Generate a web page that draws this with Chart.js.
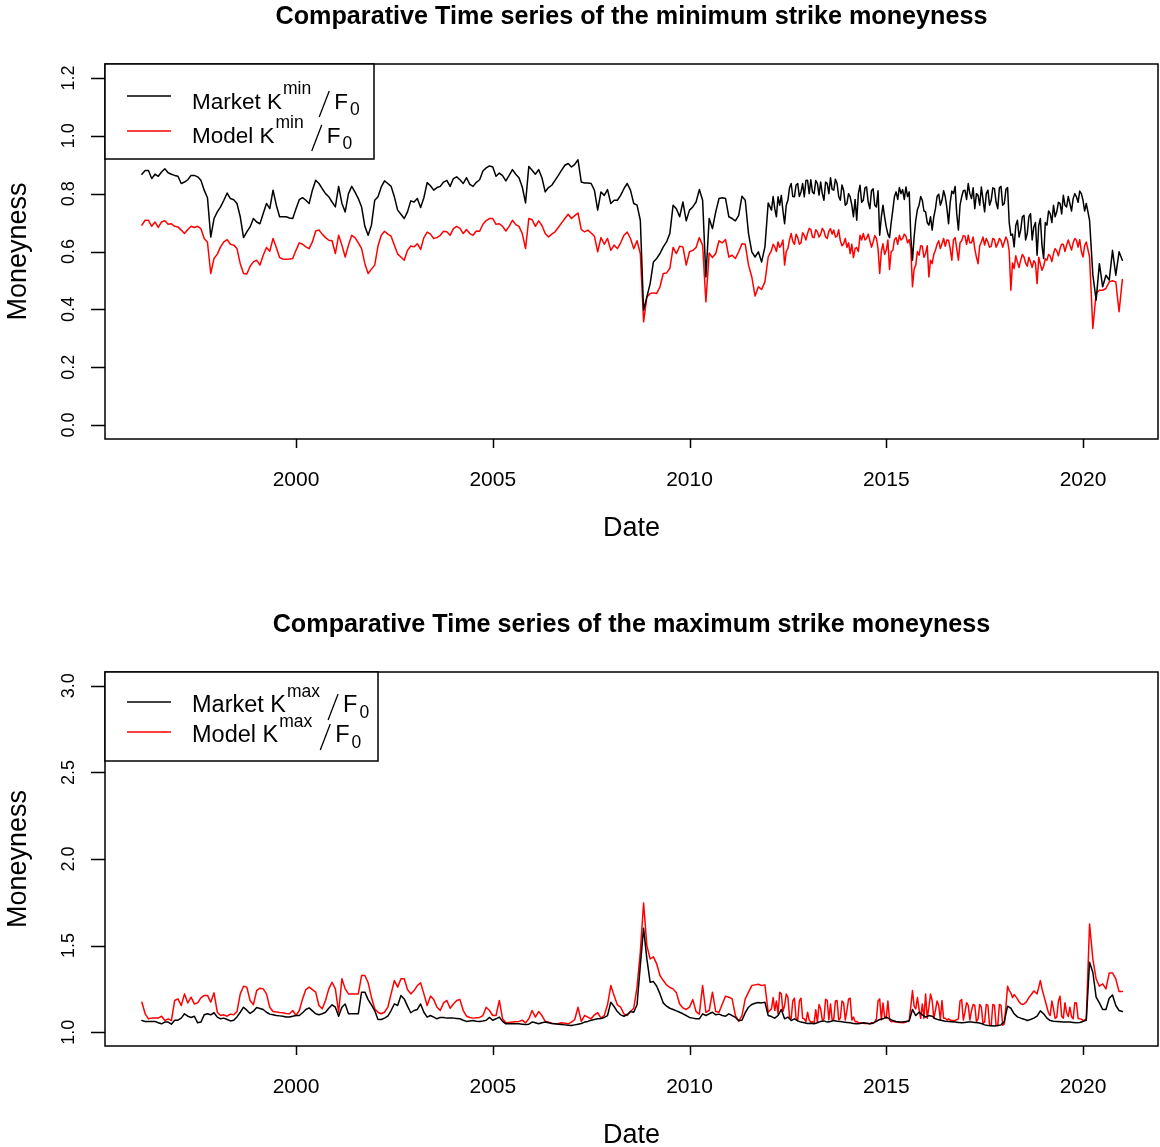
<!DOCTYPE html>
<html>
<head>
<meta charset="utf-8">
<title>Strike moneyness</title>
<script src="https://cdn.jsdelivr.net/npm/chart.js@4.4.1/dist/chart.umd.min.js"></script>
<style>
  body { margin: 0; background: #fff; }
  canvas { position: absolute; left: 0; }
  #minChart { top: 0; }
  #maxChart { top: 574px; }
</style>
</head>
<body>
<canvas id="minChart" width="1160" height="574"></canvas>
<canvas id="maxChart" width="1160" height="573"></canvas>
<script>
// Monthly observations, first one Feb 1996, last one Jan 2021
const FIRST_YEAR = 1996;
const FIRST_MONTH = 2;
// From Feb 2012 to Jan 2020 the series are noisy, so there is one extra
// mid-month reading per month (the *Mid arrays, 96 values each)
const DENSE_FROM = 192;

// Minimum strike / forward
const marketMin = [
  0.867, 0.880, 0.880, 0.852, 0.867, 0.860, 0.875, 0.886, 0.872, 0.867, 0.863, 0.860,
  0.835, 0.840, 0.848, 0.863, 0.863, 0.858, 0.846, 0.812, 0.786, 0.650, 0.714, 0.737,
  0.754, 0.777, 0.802, 0.783, 0.779, 0.766, 0.720, 0.648, 0.668, 0.685, 0.714, 0.702,
  0.696, 0.731, 0.766, 0.748, 0.812, 0.760, 0.720, 0.720, 0.720, 0.716, 0.714, 0.748,
  0.779, 0.786, 0.777, 0.766, 0.812, 0.846, 0.835, 0.817, 0.800, 0.789, 0.771, 0.754,
  0.825, 0.766, 0.737, 0.800, 0.825, 0.805, 0.783, 0.754, 0.687, 0.656, 0.691, 0.777,
  0.789, 0.823, 0.844, 0.835, 0.825, 0.789, 0.743, 0.729, 0.714, 0.737, 0.775, 0.771,
  0.783, 0.752, 0.786, 0.838, 0.827, 0.812, 0.821, 0.825, 0.840, 0.846, 0.825, 0.852,
  0.858, 0.848, 0.835, 0.855, 0.832, 0.825, 0.839, 0.848, 0.878, 0.889, 0.896, 0.892,
  0.860, 0.871, 0.862, 0.844, 0.863, 0.883, 0.867, 0.855, 0.823, 0.768, 0.894, 0.881,
  0.867, 0.883, 0.855, 0.806, 0.821, 0.829, 0.846, 0.863, 0.881, 0.898, 0.904, 0.892,
  0.901, 0.917, 0.840, 0.837, 0.837, 0.835, 0.812, 0.743, 0.806, 0.794, 0.814, 0.766,
  0.777, 0.777, 0.794, 0.817, 0.835, 0.812, 0.766, 0.760, 0.708, 0.397, 0.443, 0.489,
  0.564, 0.576, 0.593, 0.616, 0.633, 0.662, 0.760, 0.748, 0.720, 0.771, 0.706, 0.743,
  0.754, 0.771, 0.814, 0.777, 0.512, 0.714, 0.679, 0.737, 0.783, 0.786, 0.783, 0.720,
  0.714, 0.706, 0.725, 0.791, 0.777, 0.662, 0.599, 0.581, 0.599, 0.564, 0.616, 0.768,
  0.743, 0.748, 0.789, 0.794, 0.696, 0.777, 0.835, 0.789, 0.835, 0.806, 0.789, 0.846,
  0.848, 0.800, 0.835, 0.840, 0.777, 0.835, 0.855, 0.812, 0.835, 0.777, 0.812, 0.766,
  0.789, 0.720, 0.708, 0.829, 0.777, 0.823, 0.748, 0.817, 0.754, 0.656, 0.760, 0.685,
  0.648, 0.743, 0.806, 0.821, 0.814, 0.823, 0.806, 0.570, 0.708, 0.760, 0.777, 0.737,
  0.691, 0.674, 0.748, 0.798, 0.777, 0.789, 0.696, 0.809, 0.825, 0.674, 0.789, 0.812,
  0.835, 0.783, 0.748, 0.794, 0.823, 0.737, 0.812, 0.777, 0.817, 0.748, 0.825, 0.766,
  0.821, 0.656, 0.616, 0.708, 0.674, 0.725, 0.662, 0.731, 0.685, 0.587, 0.714, 0.576,
  0.691, 0.731, 0.760, 0.737, 0.766, 0.794, 0.754, 0.766, 0.783, 0.789, 0.809, 0.777,
  0.766, 0.708, 0.520, 0.432, 0.558, 0.478, 0.518, 0.501, 0.604, 0.518, 0.599, 0.570
];
const marketMinMid = [
  0.790, 0.720, 0.760, 0.740, 0.760, 0.820, 0.790, 0.830, 0.790, 0.835, 0.845, 0.800,
  0.805, 0.845, 0.795, 0.800, 0.840, 0.800, 0.815, 0.850, 0.790, 0.830, 0.760, 0.800,
  0.760, 0.780, 0.800, 0.770, 0.820, 0.770, 0.810, 0.760, 0.810, 0.720, 0.720, 0.660,
  0.700, 0.790, 0.780, 0.800, 0.780, 0.790, 0.650, 0.650, 0.745, 0.790, 0.740, 0.700,
  0.720, 0.720, 0.790, 0.760, 0.810, 0.750, 0.770, 0.800, 0.730, 0.760, 0.810, 0.780,
  0.800, 0.820, 0.800, 0.760, 0.780, 0.800, 0.760, 0.820, 0.770, 0.820, 0.760, 0.815,
  0.700, 0.660, 0.690, 0.650, 0.720, 0.640, 0.720, 0.640, 0.700, 0.690, 0.620, 0.700,
  0.740, 0.700, 0.720, 0.770, 0.730, 0.760, 0.790, 0.740, 0.800, 0.770, 0.800, 0.740
];
const modelMin = [
  0.691, 0.708, 0.708, 0.687, 0.702, 0.683, 0.702, 0.706, 0.694, 0.696, 0.687, 0.685,
  0.674, 0.662, 0.676, 0.687, 0.683, 0.687, 0.679, 0.645, 0.632, 0.524, 0.576, 0.591,
  0.616, 0.633, 0.641, 0.625, 0.622, 0.610, 0.558, 0.524, 0.522, 0.549, 0.564, 0.570,
  0.553, 0.587, 0.614, 0.601, 0.645, 0.614, 0.579, 0.574, 0.573, 0.574, 0.576, 0.604,
  0.630, 0.625, 0.616, 0.610, 0.633, 0.671, 0.674, 0.660, 0.648, 0.639, 0.637, 0.593,
  0.656, 0.622, 0.581, 0.622, 0.656, 0.648, 0.630, 0.610, 0.558, 0.524, 0.539, 0.553,
  0.619, 0.656, 0.670, 0.660, 0.653, 0.622, 0.591, 0.581, 0.570, 0.604, 0.619, 0.616,
  0.627, 0.607, 0.648, 0.667, 0.660, 0.645, 0.648, 0.656, 0.670, 0.668, 0.656, 0.679,
  0.687, 0.680, 0.662, 0.676, 0.662, 0.656, 0.671, 0.670, 0.694, 0.707, 0.714, 0.714,
  0.694, 0.696, 0.687, 0.671, 0.687, 0.708, 0.693, 0.687, 0.662, 0.610, 0.714, 0.710,
  0.687, 0.706, 0.690, 0.662, 0.650, 0.660, 0.668, 0.683, 0.699, 0.714, 0.729, 0.714,
  0.724, 0.733, 0.676, 0.668, 0.674, 0.664, 0.653, 0.599, 0.648, 0.625, 0.645, 0.604,
  0.622, 0.610, 0.630, 0.656, 0.667, 0.645, 0.610, 0.637, 0.593, 0.357, 0.443, 0.455,
  0.457, 0.455, 0.478, 0.524, 0.526, 0.541, 0.614, 0.593, 0.618, 0.616, 0.553, 0.599,
  0.604, 0.614, 0.648, 0.622, 0.426, 0.595, 0.579, 0.593, 0.637, 0.630, 0.641, 0.581,
  0.587, 0.576, 0.599, 0.627, 0.625, 0.553, 0.512, 0.446, 0.478, 0.469, 0.495, 0.581,
  0.604, 0.616, 0.633, 0.622, 0.553, 0.610, 0.662, 0.625, 0.648, 0.630, 0.656, 0.662,
  0.676, 0.648, 0.668, 0.660, 0.671, 0.645, 0.679, 0.674, 0.653, 0.637, 0.627, 0.614,
  0.593, 0.579, 0.614, 0.656, 0.662, 0.645, 0.637, 0.633, 0.645, 0.524, 0.627, 0.604,
  0.538, 0.604, 0.648, 0.656, 0.645, 0.653, 0.641, 0.478, 0.553, 0.587, 0.618, 0.593,
  0.512, 0.558, 0.604, 0.637, 0.627, 0.618, 0.639, 0.570, 0.648, 0.570, 0.637, 0.653,
  0.656, 0.630, 0.610, 0.558, 0.633, 0.622, 0.633, 0.618, 0.641, 0.627, 0.637, 0.633,
  0.637, 0.466, 0.541, 0.564, 0.570, 0.581, 0.549, 0.564, 0.568, 0.489, 0.556, 0.549,
  0.570, 0.584, 0.593, 0.602, 0.610, 0.625, 0.622, 0.622, 0.630, 0.639, 0.641, 0.581,
  0.633, 0.581, 0.334, 0.455, 0.466, 0.466, 0.472, 0.495, 0.499, 0.495, 0.392, 0.503
];
const modelMinMid = [
  0.625, 0.600, 0.615, 0.640, 0.600, 0.640, 0.635, 0.660, 0.625, 0.665, 0.640, 0.680,
  0.650, 0.675, 0.650, 0.680, 0.650, 0.670, 0.660, 0.650, 0.675, 0.620, 0.645, 0.630,
  0.625, 0.610, 0.600, 0.640, 0.640, 0.660, 0.615, 0.655, 0.610, 0.600, 0.590, 0.640,
  0.600, 0.640, 0.625, 0.640, 0.660, 0.630, 0.610, 0.540, 0.600, 0.620, 0.580, 0.620,
  0.570, 0.590, 0.625, 0.610, 0.645, 0.640, 0.610, 0.640, 0.610, 0.630, 0.655, 0.625,
  0.630, 0.650, 0.580, 0.620, 0.650, 0.645, 0.615, 0.645, 0.615, 0.645, 0.615, 0.650,
  0.600, 0.560, 0.585, 0.545, 0.590, 0.560, 0.580, 0.545, 0.560, 0.580, 0.535, 0.575,
  0.590, 0.565, 0.610, 0.585, 0.625, 0.600, 0.640, 0.605, 0.645, 0.615, 0.600, 0.620
];

// Maximum strike / forward
const marketMax = [
  1.067, 1.062, 1.062, 1.062, 1.062, 1.054, 1.048, 1.058, 1.058, 1.046, 1.069, 1.069,
  1.081, 1.106, 1.092, 1.085, 1.092, 1.054, 1.058, 1.100, 1.106, 1.100, 1.112, 1.087,
  1.077, 1.081, 1.073, 1.065, 1.069, 1.088, 1.115, 1.144, 1.127, 1.108, 1.121, 1.142,
  1.137, 1.131, 1.115, 1.104, 1.100, 1.096, 1.094, 1.092, 1.088, 1.087, 1.092, 1.096,
  1.096, 1.112, 1.131, 1.140, 1.123, 1.106, 1.100, 1.106, 1.115, 1.138, 1.158, 1.144,
  1.092, 1.144, 1.163, 1.106, 1.106, 1.106, 1.106, 1.231, 1.231, 1.188, 1.158, 1.125,
  1.073, 1.073, 1.081, 1.092, 1.125, 1.163, 1.154, 1.212, 1.192, 1.150, 1.112, 1.125,
  1.131, 1.163, 1.115, 1.087, 1.096, 1.087, 1.077, 1.085, 1.085, 1.081, 1.081, 1.081,
  1.079, 1.077, 1.069, 1.062, 1.065, 1.067, 1.063, 1.062, 1.065, 1.069, 1.085, 1.069,
  1.077, 1.087, 1.062, 1.048, 1.048, 1.048, 1.048, 1.048, 1.046, 1.044, 1.046, 1.058,
  1.054, 1.048, 1.054, 1.058, 1.054, 1.050, 1.048, 1.046, 1.044, 1.042, 1.040, 1.038,
  1.042, 1.046, 1.050, 1.058, 1.062, 1.069, 1.073, 1.077, 1.079, 1.085, 1.096, 1.173,
  1.148, 1.119, 1.100, 1.092, 1.102, 1.119, 1.115, 1.158, 1.385, 1.600, 1.423, 1.288,
  1.292, 1.265, 1.221, 1.169, 1.150, 1.138, 1.131, 1.123, 1.115, 1.106, 1.096, 1.085,
  1.081, 1.077, 1.077, 1.106, 1.096, 1.106, 1.115, 1.100, 1.104, 1.096, 1.092, 1.106,
  1.096, 1.085, 1.067, 1.069, 1.112, 1.144, 1.160, 1.167, 1.171, 1.169, 1.173, 1.096,
  1.090, 1.081, 1.096, 1.131, 1.077, 1.087, 1.067, 1.077, 1.065, 1.058, 1.054, 1.050,
  1.052, 1.048, 1.054, 1.062, 1.065, 1.058, 1.062, 1.067, 1.063, 1.062, 1.058, 1.056,
  1.054, 1.050, 1.048, 1.050, 1.054, 1.052, 1.048, 1.052, 1.063, 1.073, 1.077, 1.087,
  1.077, 1.067, 1.062, 1.058, 1.058, 1.062, 1.065, 1.131, 1.096, 1.115, 1.100, 1.087,
  1.096, 1.092, 1.077, 1.071, 1.067, 1.063, 1.062, 1.060, 1.058, 1.056, 1.054, 1.056,
  1.058, 1.058, 1.056, 1.054, 1.050, 1.042, 1.038, 1.037, 1.035, 1.038, 1.042, 1.062,
  1.150, 1.138, 1.106, 1.088, 1.081, 1.075, 1.067, 1.073, 1.081, 1.092, 1.123, 1.106,
  1.081, 1.067, 1.063, 1.062, 1.060, 1.058, 1.058, 1.058, 1.056, 1.054, 1.056, 1.062,
  1.069, 1.404, 1.346, 1.202, 1.169, 1.131, 1.131, 1.196, 1.215, 1.154, 1.125, 1.119
];
const modelMax = [
  1.173, 1.106, 1.077, 1.081, 1.081, 1.081, 1.092, 1.067, 1.077, 1.067, 1.183, 1.192,
  1.154, 1.221, 1.169, 1.202, 1.163, 1.169, 1.198, 1.212, 1.212, 1.173, 1.227, 1.115,
  1.096, 1.100, 1.092, 1.104, 1.100, 1.119, 1.221, 1.265, 1.260, 1.183, 1.158, 1.240,
  1.254, 1.250, 1.221, 1.144, 1.119, 1.117, 1.113, 1.112, 1.108, 1.106, 1.125, 1.096,
  1.125, 1.192, 1.246, 1.260, 1.246, 1.231, 1.154, 1.135, 1.183, 1.250, 1.288, 1.250,
  1.115, 1.308, 1.250, 1.221, 1.221, 1.221, 1.221, 1.327, 1.327, 1.285, 1.202, 1.135,
  1.115, 1.106, 1.115, 1.144, 1.221, 1.298, 1.260, 1.308, 1.308, 1.246, 1.221, 1.240,
  1.269, 1.285, 1.221, 1.154, 1.208, 1.188, 1.144, 1.125, 1.169, 1.183, 1.138, 1.163,
  1.183, 1.188, 1.125, 1.092, 1.085, 1.081, 1.083, 1.085, 1.096, 1.144, 1.125, 1.096,
  1.096, 1.183, 1.077, 1.054, 1.056, 1.058, 1.060, 1.062, 1.069, 1.054, 1.077, 1.125,
  1.087, 1.119, 1.096, 1.062, 1.058, 1.052, 1.048, 1.050, 1.054, 1.052, 1.048, 1.058,
  1.073, 1.144, 1.062, 1.096, 1.087, 1.077, 1.100, 1.112, 1.081, 1.096, 1.158, 1.269,
  1.212, 1.158, 1.144, 1.106, 1.096, 1.119, 1.138, 1.260, 1.462, 1.746, 1.500, 1.423,
  1.435, 1.394, 1.327, 1.298, 1.273, 1.258, 1.250, 1.227, 1.163, 1.140, 1.131, 1.144,
  1.188, 1.119, 1.104, 1.269, 1.115, 1.125, 1.231, 1.119, 1.115, 1.163, 1.208, 1.202,
  1.192, 1.096, 1.062, 1.096, 1.192, 1.231, 1.269, 1.273, 1.277, 1.269, 1.273, 1.115,
  1.135, 1.125, 1.106, 1.221, 1.154, 1.202, 1.077, 1.196, 1.067, 1.196, 1.077, 1.115,
  1.058, 1.054, 1.058, 1.135, 1.077, 1.183, 1.163, 1.077, 1.183, 1.081, 1.169, 1.125,
  1.196, 1.087, 1.062, 1.054, 1.052, 1.050, 1.048, 1.054, 1.077, 1.192, 1.169, 1.081,
  1.071, 1.063, 1.058, 1.056, 1.054, 1.058, 1.069, 1.240, 1.135, 1.135, 1.163, 1.221,
  1.144, 1.183, 1.125, 1.154, 1.183, 1.081, 1.077, 1.067, 1.067, 1.077, 1.188, 1.115,
  1.154, 1.125, 1.154, 1.077, 1.144, 1.058, 1.154, 1.038, 1.154, 1.038, 1.154, 1.048,
  1.265, 1.227, 1.217, 1.192, 1.165, 1.163, 1.183, 1.212, 1.238, 1.221, 1.298, 1.215,
  1.144, 1.096, 1.135, 1.087, 1.208, 1.081, 1.112, 1.144, 1.077, 1.169, 1.077, 1.067,
  1.077, 1.625, 1.423, 1.308, 1.265, 1.279, 1.250, 1.342, 1.342, 1.308, 1.235, 1.235
];
const modelMaxMid = [
  1.200, 1.180, 1.230, 1.120, 1.220, 1.090, 1.180, 1.080, 1.180, 1.080, 1.060, 1.070,
  1.060, 1.130, 1.160, 1.070, 1.190, 1.070, 1.070, 1.180, 1.070, 1.180, 1.070, 1.190,
  1.070, 1.060, 1.055, 1.053, 1.050, 1.050, 1.055, 1.060, 1.180, 1.070, 1.090, 1.180,
  1.060, 1.060, 1.057, 1.055, 1.056, 1.062, 1.150, 1.150, 1.200, 1.080, 1.080, 1.080,
  1.220, 1.080, 1.180, 1.070, 1.080, 1.070, 1.070, 1.067, 1.072, 1.180, 1.070, 1.170,
  1.070, 1.160, 1.060, 1.160, 1.050, 1.160, 1.040, 1.160, 1.040, 1.160, 1.040, 1.150,
  1.240, 1.200, 1.205, 1.175, 1.160, 1.170, 1.200, 1.225, 1.230, 1.260, 1.250, 1.180,
  1.110, 1.180, 1.080, 1.180, 1.090, 1.170, 1.090, 1.090, 1.170, 1.080, 1.075, 1.070
];

// Axis ticks
const yearTicks = [2000, 2005, 2010, 2015, 2020];
const minTicks = [0.0, 0.2, 0.4, 0.6, 0.8, 1.0, 1.2];
const maxTicks = [1.0, 1.5, 2.0, 2.5, 3.0];

const FONT = '"Liberation Sans", Arial, sans-serif';

// decimal year of every monthly observation
const dates = marketMin.map((_, i) => FIRST_YEAR + (FIRST_MONTH - 1 + i) / 12);

function toPoints(values, mids) {
  const pts = [];
  values.forEach((v, i) => {
    pts.push({ x: dates[i], y: v });
    const j = i - DENSE_FROM;
    if (mids && j >= 0 && j < mids.length) {
      pts.push({ x: dates[i] + 1 / 24, y: mids[j] });
    }
  });
  return pts;
}

// R-style frame: box, outside ticks, rotated y labels, legend with K^sup/F_0
const rFrame = {
  id: 'rFrame',
  afterDraw(chart, args, o) {
    const { ctx, chartArea: a, scales: { x, y } } = chart;
    ctx.save();
    ctx.strokeStyle = '#000';
    ctx.fillStyle = '#000';
    ctx.lineWidth = 1.5;

    ctx.strokeRect(a.left, a.top, a.right - a.left, a.bottom - a.top);

    ctx.beginPath();
    yearTicks.forEach(t => {
      const px = Math.round(x.getPixelForValue(t)) + 0.5;
      ctx.moveTo(px, a.bottom);
      ctx.lineTo(px, a.bottom + 9);
    });
    o.yTicks.forEach(t => {
      const py = Math.round(y.getPixelForValue(t)) + 0.5;
      ctx.moveTo(a.left, py);
      ctx.lineTo(a.left - 14, py);
    });
    ctx.stroke();

    // tick labels
    ctx.font = '21px ' + FONT;
    ctx.textAlign = 'center';
    ctx.textBaseline = 'alphabetic';
    yearTicks.forEach(t => ctx.fillText(String(t), x.getPixelForValue(t), a.bottom + 47));
    o.yTicks.forEach(t => {
      ctx.save();
      ctx.translate(a.left - 31, y.getPixelForValue(t));
      ctx.rotate(-Math.PI / 2);
      ctx.font = '18px ' + FONT;
      ctx.fillText(t.toFixed(1), 0, 0);
      ctx.restore();
    });

    // axis titles
    const midX = (a.left + a.right) / 2;
    ctx.font = '27px ' + FONT;
    ctx.fillText('Date', midX, a.bottom + 97);
    ctx.save();
    ctx.translate(26, (a.top + a.bottom) / 2);
    ctx.rotate(-Math.PI / 2);
    ctx.fillText('Moneyness', 0, 0);
    ctx.restore();

    // main title
    ctx.font = 'bold 25.2px ' + FONT;
    ctx.fillText(o.title, midX, a.top - 40);

    // legend
    const lg = o.legend;
    ctx.fillStyle = '#fff';
    ctx.fillRect(a.left, a.top, lg.width, lg.height);
    ctx.strokeRect(a.left, a.top, lg.width, lg.height);
    ctx.textAlign = 'left';
    const mainFont = lg.size + 'px ' + FONT;
    const smallFont = '17.5px ' + FONT;
    lg.rows.forEach(row => {
      const lineY = a.top + row.lineY;
      const base = a.top + row.base;
      ctx.strokeStyle = row.color;
      ctx.lineWidth = 1.5;
      ctx.beginPath();
      ctx.moveTo(127, lineY);
      ctx.lineTo(171, lineY);
      ctx.stroke();

      ctx.fillStyle = '#000';
      ctx.strokeStyle = '#000';
      let cx = 192;
      ctx.font = mainFont;
      ctx.fillText(row.label + ' K', cx, base);
      cx += ctx.measureText(row.label + ' K').width + 1;
      ctx.font = smallFont;
      ctx.fillText(lg.sup, cx, base - 15);
      cx += ctx.measureText(lg.sup).width + 8;
      // tall slash between K^sup and F_0
      ctx.lineWidth = 1.3;
      ctx.beginPath();
      ctx.moveTo(cx, base + 8);
      ctx.lineTo(cx + 10, base - 18);
      ctx.stroke();
      cx += 15;
      ctx.font = mainFont;
      ctx.fillText('F', cx, base);
      cx += ctx.measureText('F').width + 2;
      ctx.font = smallFont;
      ctx.fillText('0', cx, base + 6);
    });
    ctx.restore();
  }
};

function makeChart(id, series, yMin, yMax, padding, frame) {
  return new Chart(document.getElementById(id), {
    type: 'line',
    data: {
      datasets: [
        { data: series.market, borderColor: '#000000' },
        { data: series.model, borderColor: '#ff0000' }
      ]
    },
    options: {
      responsive: false,
      animation: false,
      events: [],
      layout: { padding },
      elements: {
        point: { radius: 0 },
        line: {
          borderWidth: 1.5,
          tension: 0,
          fill: false,
          borderJoinStyle: 'round',
          borderCapStyle: 'round'
        }
      },
      plugins: {
        legend: { display: false },
        title: { display: false },
        tooltip: { enabled: false },
        rFrame: frame
      },
      scales: {
        x: { type: 'linear', display: false, min: 1995.146, max: 2021.906 },
        y: { type: 'linear', display: false, min: yMin, max: yMax }
      }
    },
    plugins: [rFrame]
  });
}

makeChart('minChart',
  { market: toPoints(marketMin, marketMinMid), model: toPoints(modelMin, modelMinMid) },
  -0.048, 1.248,
  { left: 105, top: 64, right: 2, bottom: 135 },
  {
    title: 'Comparative Time series of the minimum strike moneyness',
    yTicks: minTicks,
    legend: {
      width: 269, height: 95, sup: 'min', size: 22.5,
      rows: [
        { label: 'Market', color: '#000000', lineY: 32, base: 45 },
        { label: 'Model', color: '#ff0000', lineY: 67, base: 79 }
      ]
    }
  });

makeChart('maxChart',
  { market: toPoints(marketMax), model: toPoints(modelMax, modelMaxMid) },
  0.92, 3.08,
  { left: 105, top: 98, right: 2, bottom: 101 },
  {
    title: 'Comparative Time series of the maximum strike moneyness',
    yTicks: maxTicks,
    legend: {
      width: 273, height: 89, sup: 'max', size: 23.5,
      rows: [
        { label: 'Market', color: '#000000', lineY: 30, base: 40 },
        { label: 'Model', color: '#ff0000', lineY: 60, base: 70 }
      ]
    }
  });
</script>
</body>
</html>
